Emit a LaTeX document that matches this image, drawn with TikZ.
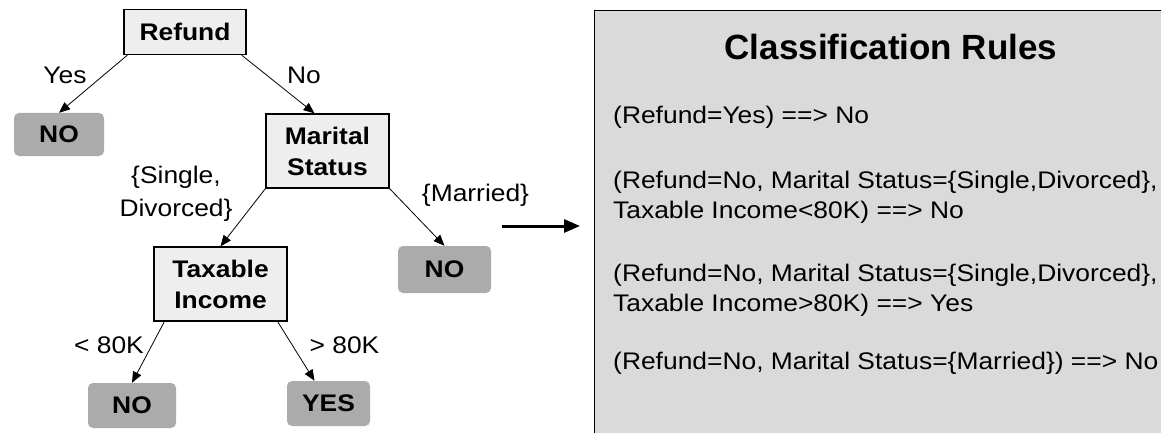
\documentclass[tikz,border=0pt]{standalone}
\usepackage{fontspec}
\setmainfont[FakeStretch=1.1]{Liberation Sans}
\newfontfamily\titlefont{Liberation Sans}
\usepackage{xcolor}
\usetikzlibrary{arrows.meta}

\definecolor{boxgray}{HTML}{EEEEEE}
\definecolor{leafgray}{HTML}{ABABAB}
\definecolor{panelgray}{HTML}{DADADA}
\newcommand{\treefont}{\fontsize{24}{31}\selectfont}
\newcommand{\rulefont}{\fontsize{24}{30}\selectfont}

\tikzset{
	test/.style={draw, fill=boxgray, line width=1.3pt, inner sep=0pt, align=center, font=\treefont\bfseries},
	leaf/.style={fill=leafgray, rounded corners=5pt, inner sep=0pt, minimum height=45pt, font=\treefont\bfseries},
	lbl/.style={inner sep=0pt, align=center, font=\treefont},
	arr/.style={->, >={Triangle[length=11pt,width=9pt]}, line width=0.8pt},
	panel/.style={draw, fill=panelgray, line width=0.9pt, inner sep=0pt},
	rule/.style={anchor=west, inner sep=0pt, align=left, font=\rulefont}
}

\begin{document}
\begin{tikzpicture}[x=1pt,y=-1pt]
		\useasboundingbox (0,0) rectangle (1161,433);
		\clip (0,0) rectangle (1161,433);
		%
		\node[test, minimum width=122pt, minimum height=45pt] (refund) at (185,32) {Refund};
		\node[test, minimum width=123pt, minimum height=74pt] (marital) at (327.5,151) {Marital\\Status};
		\node[test, minimum width=133pt, minimum height=74pt] (taxable) at (220.5,284) {Taxable\\Income};
		\node[leaf, minimum width=90pt, minimum height=43pt] (no1) at (59,134.5) {NO};
		\node[leaf, minimum width=93pt, minimum height=47pt] (no2) at (444.5,269.5) {NO};
		\node[leaf, minimum width=88pt] (no3) at (132,405.5) {NO};
		\node[leaf, minimum width=83pt] (yes) at (328.5,403.5) {YES};
		%
		\node[lbl] (lyes) at (65,75) {Yes};
		\node[lbl] (lno) at (304,75) {No};
		\node[lbl, font=\fontsize{24}{33}\selectfont] (lsingle) at (176,194) {\{Single,\\Divorced\}};
		\node[lbl] (lmarried) at (475.5,195) {\{Married\}};
		\node[lbl] (llow) at (109,345) {< 80K};
		\node[lbl] (lhigh) at (344.5,345) {> 80K};
		%
		\path[arr]
		([xshift=4pt]refund.south west) edge (no1.north)
		([xshift=-5pt]refund.south east) edge ([xshift=-13pt]marital.north)
		(marital.south west) edge (taxable.north)
		(marital.south east) edge (no2.north)
		([xshift=11pt]taxable.south west) edge (no3.north)
		([xshift=-10pt]taxable.south east) edge ([xshift=-14pt]yes.north);
		%
		\node[panel, anchor=north west, minimum width=600pt, minimum height=440pt] (rules) at (594,10) {};
		\coordinate (from) at (502,226);
		\coordinate (to) at (580,226);
		\draw[line width=3pt, -{Triangle[length=16pt,width=13pt]}] (from) -- (to);
		%
		\node[font=\titlefont\bfseries\fontsize{35}{40}\selectfont, inner sep=0pt] (title) at (891,47) {Classification Rules};
		\node[rule] (r1) at (613,117) {(Refund=Yes) ==> No};
		\node[rule] (r2) at (613,197) {(Refund=No, Marital Status=\{Single,Divorced\},\\Taxable Income<80K) ==> No};
		\node[rule] (r3) at (613,290) {(Refund=No, Marital Status=\{Single,Divorced\},\\Taxable Income>80K) ==> Yes};
		\node[rule] (r4) at (613,363) {(Refund=No, Marital Status=\{Married\}) ==> No};
\end{tikzpicture}
\end{document}
